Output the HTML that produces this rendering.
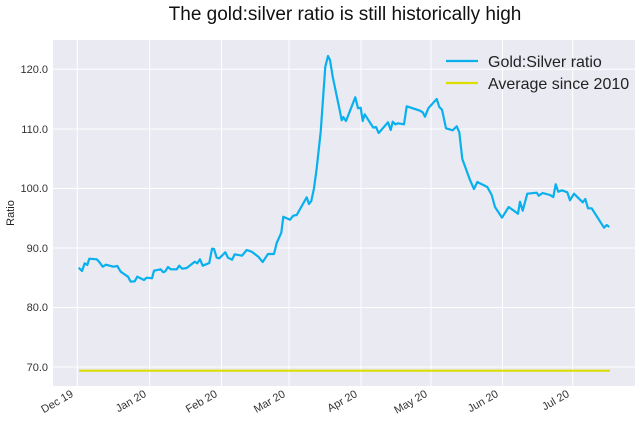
<!DOCTYPE html>
<html><head><meta charset="utf-8"><style>
body{margin:0;background:#fff;width:640px;height:425px;overflow:hidden}
svg text{font-family:"Liberation Sans",sans-serif}
</style></head><body>
<svg width="640" height="425" viewBox="0 0 640 425">
<text x="345" y="20" font-size="19" text-anchor="middle" fill="#111">The gold:silver ratio is still historically high</text>
<rect x="53" y="40" width="582" height="346" fill="#eaeaf2"/>
<g stroke="#fff" stroke-width="1">
<line x1="53" x2="635" y1="69.3" y2="69.3"/><line x1="53" x2="635" y1="129" y2="129"/><line x1="53" x2="635" y1="188.5" y2="188.5"/><line x1="53" x2="635" y1="248" y2="248"/><line x1="53" x2="635" y1="307.5" y2="307.5"/><line x1="53" x2="635" y1="367" y2="367"/>
<line y1="40" y2="386" x1="77.3" x2="77.3"/><line y1="40" y2="386" x1="149.7" x2="149.7"/><line y1="40" y2="386" x1="221.5" x2="221.5"/><line y1="40" y2="386" x1="289" x2="289"/><line y1="40" y2="386" x1="361" x2="361"/><line y1="40" y2="386" x1="431" x2="431"/><line y1="40" y2="386" x1="502.5" x2="502.5"/><line y1="40" y2="386" x1="572.7" x2="572.7"/>
</g>
<g font-size="11" fill="#333" text-anchor="end">
<text x="48" y="73">120.0</text><text x="48" y="133">110.0</text><text x="48" y="192">100.0</text><text x="48" y="252">90.0</text><text x="48" y="311">80.0</text><text x="48" y="371">70.0</text>
<text transform="translate(74,396) rotate(-30)">Dec 19</text>
<text transform="translate(147,396) rotate(-30)">Jan 20</text>
<text transform="translate(218,396) rotate(-30)">Feb 20</text>
<text transform="translate(286,396) rotate(-30)">Mar 20</text>
<text transform="translate(358,396) rotate(-30)">Apr 20</text>
<text transform="translate(428,396) rotate(-30)">May 20</text>
<text transform="translate(499,396) rotate(-30)">Jun 20</text>
<text transform="translate(570,396) rotate(-30)">Jul 20</text>
</g>
<text transform="translate(14,213) rotate(-90)" font-size="11" fill="#222" text-anchor="middle">Ratio</text>
<line x1="79" x2="610" y1="370.7" y2="370.7" stroke="#dddd00" stroke-width="2.2"/>
<polyline fill="none" stroke="#08b0ee" stroke-width="2.2" stroke-linejoin="round" points="78.7,267.7 82,271 84.7,263.3 87.3,265 89.3,258.7 96.7,259.3 99.3,262 102.7,266.7 106,264.7 113.3,266.7 117.3,266 120.7,271.7 128,276.7 130.7,281.7 134.7,281.3 137.3,276.7 144,280 146.7,277.7 152,278.3 154,270.7 160.7,269.3 163.3,272.3 165.3,271.3 168,267 170.7,269.3 176.7,269.3 179.3,265.7 182,268.7 186.7,268 194.7,261.7 197.3,263.3 200,259.3 202.7,265.7 209.3,263 212,248.7 214,249 216.7,257.7 219.3,258.3 225.3,252.3 228,257.7 232,259.7 234.7,254.3 242,255.7 246.7,250 251.7,251.7 258.3,256.7 262.7,262 268,254 274,254 276.7,243 281.3,232.7 283.3,216.7 290,219.7 293.3,215.7 296.7,215 306.7,197.3 309,204 311.3,201 314,188.3 316.7,168.3 320.7,131.7 325.3,66.7 328,56 330,60 332.7,76.7 339.3,108.3 341.7,120.3 343.3,117 346,121 355.3,97.3 358,108.3 360.7,107.7 362.7,121 364.7,114.3 373.3,127.7 376,127 378.7,133 388,122.3 390.7,130 392.7,121.7 395.3,124.3 398,123.3 404,124.3 406.7,106.3 420,110.7 422.7,112.3 425,116.7 428.3,108.3 436.7,99 439.3,107 442,109.7 446,128.3 452.7,130.3 456.7,126.3 459.3,132.3 462.3,159 470,180 474,189 477.3,182 487.3,187 491.7,195 495,207 502,217.7 508.7,207 518,213.7 520,201.7 522.7,210.7 527.3,193.7 536.7,192.7 538.7,195.7 542.7,193 550,195 553.3,197 555.7,184.3 558.3,191.7 562,190.3 567.3,192.3 570,200.3 574,193.7 582.7,202.3 585.3,199 588,208.3 591.7,208.3 604,227.7 606.7,225 609.3,227"/>
<line x1="446" x2="478" y1="61" y2="61" stroke="#08b0ee" stroke-width="2.2"/>
<line x1="446" x2="478" y1="83" y2="83" stroke="#dddd00" stroke-width="2.2"/>
<text x="488" y="67" font-size="16" fill="#222">Gold:Silver ratio</text>
<text x="488" y="89" font-size="16" fill="#222">Average since 2010</text>
</svg>
</body></html>
